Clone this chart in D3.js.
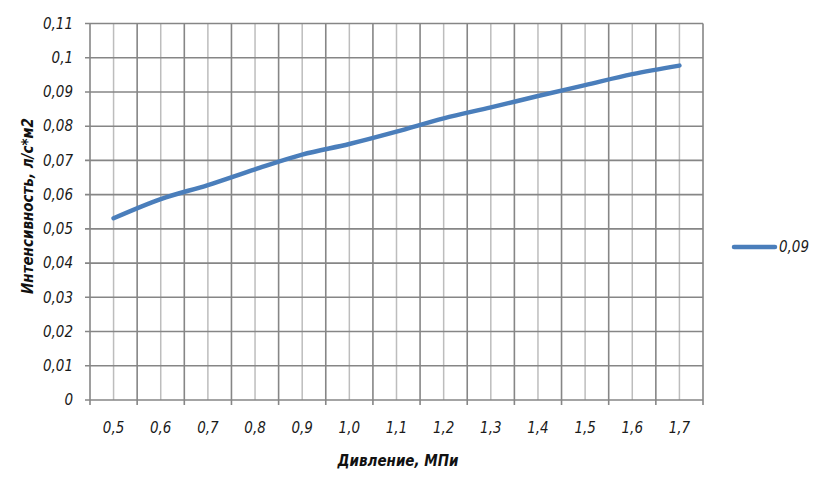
<!DOCTYPE html>
<html><head><meta charset="utf-8">
<script src="https://cdn.jsdelivr.net/npm/d3@7"></script>
<style>
html,body{margin:0;padding:0;background:#fff;}
text{font-family:"Liberation Sans Narrow","DejaVu Sans Condensed","Liberation Sans",sans-serif;font-style:italic;}
</style></head>
<body>
<svg id="chart" width="817" height="477"></svg>
<script>
const categories = ["0,5","0,6","0,7","0,8","0,9","1,0","1,1","1,2","1,3","1,4","1,5","1,6","1,7"];
const seriesName = "0,09";
const seriesValues = [0.0531,0.0587,0.0628,0.0674,0.0717,0.0748,0.0784,0.0823,0.0855,0.0888,0.0920,0.0952,0.0977];
const yTicks = [0,0.01,0.02,0.03,0.04,0.05,0.06,0.07,0.08,0.09,0.1,0.11];
const xTitle = "Дивление, МПи";
const yTitle = "Интенсивность, л/с*м2";

const svg = d3.select("#chart");
const pLeft = 90, pRight = 703, pTop = 23.5, pBottom = 400;
const x = d3.scaleBand().domain(categories).range([pLeft, pRight]).padding(0);
const y = d3.scaleLinear().domain([0, 0.11]).range([pBottom, pTop]);
const cx = c => x(c) + x.bandwidth() / 2;
const fmt = v => String(v).replace(".", ",");

const grid = svg.append("g");
grid.selectAll("line.minor").data(categories).join("line")
  .attr("x1", d => cx(d)).attr("x2", d => cx(d))
  .attr("y1", pTop).attr("y2", pBottom)
  .attr("stroke", "#bdbdbd").attr("stroke-width", 1.5);
const bounds = categories.map(c => x(c)).concat([x.range()[1]]);
grid.selectAll("line.major").data(bounds).join("line")
  .attr("x1", d => d).attr("x2", d => d)
  .attr("y1", pTop).attr("y2", pBottom + 5)
  .attr("stroke", "#868686").attr("stroke-width", 1.6);
grid.selectAll("line.h").data(yTicks).join("line")
  .attr("x1", pLeft - 5).attr("x2", pRight)
  .attr("y1", d => y(d)).attr("y2", d => y(d))
  .attr("stroke", "#868686").attr("stroke-width", 1.6);

svg.append("g").selectAll("text").data(yTicks).join("text")
  .attr("x", 73).attr("y", d => y(d)).attr("dy", "0.35em")
  .attr("text-anchor", "end").attr("font-size", 15).attr("fill", "#1a1a1a")
  .text(fmt);
svg.append("g").selectAll("text").data(categories).join("text")
  .attr("x", d => cx(d)).attr("y", 433)
  .attr("text-anchor", "middle").attr("font-size", 15).attr("fill", "#1a1a1a")
  .text(d => d);

svg.append("text").attr("x", 398).attr("y", 466).attr("text-anchor", "middle")
  .attr("font-size", 15).attr("font-weight", "bold").attr("fill", "#111").text(xTitle);
svg.append("text").attr("transform", "translate(33,206) rotate(-90)").attr("text-anchor", "middle")
  .attr("font-size", 15).attr("font-weight", "bold").attr("fill", "#111").text(yTitle);

const line = d3.line().x((d, i) => cx(categories[i])).y(d => y(d)).curve(d3.curveMonotoneX);
svg.append("path").datum(seriesValues).attr("d", line)
  .attr("fill", "none").attr("stroke", "#4a7ebb").attr("stroke-width", 4.5)
  .attr("stroke-linecap", "round").attr("stroke-linejoin", "round");

svg.append("line").attr("x1", 734).attr("x2", 775).attr("y1", 247).attr("y2", 247)
  .attr("stroke", "#4a7ebb").attr("stroke-width", 4.5).attr("stroke-linecap", "round");
svg.append("text").attr("x", 779).attr("y", 247).attr("dy", "0.35em")
  .attr("font-size", 15).attr("fill", "#1a1a1a").text(seriesName);
</script>
</body></html>
